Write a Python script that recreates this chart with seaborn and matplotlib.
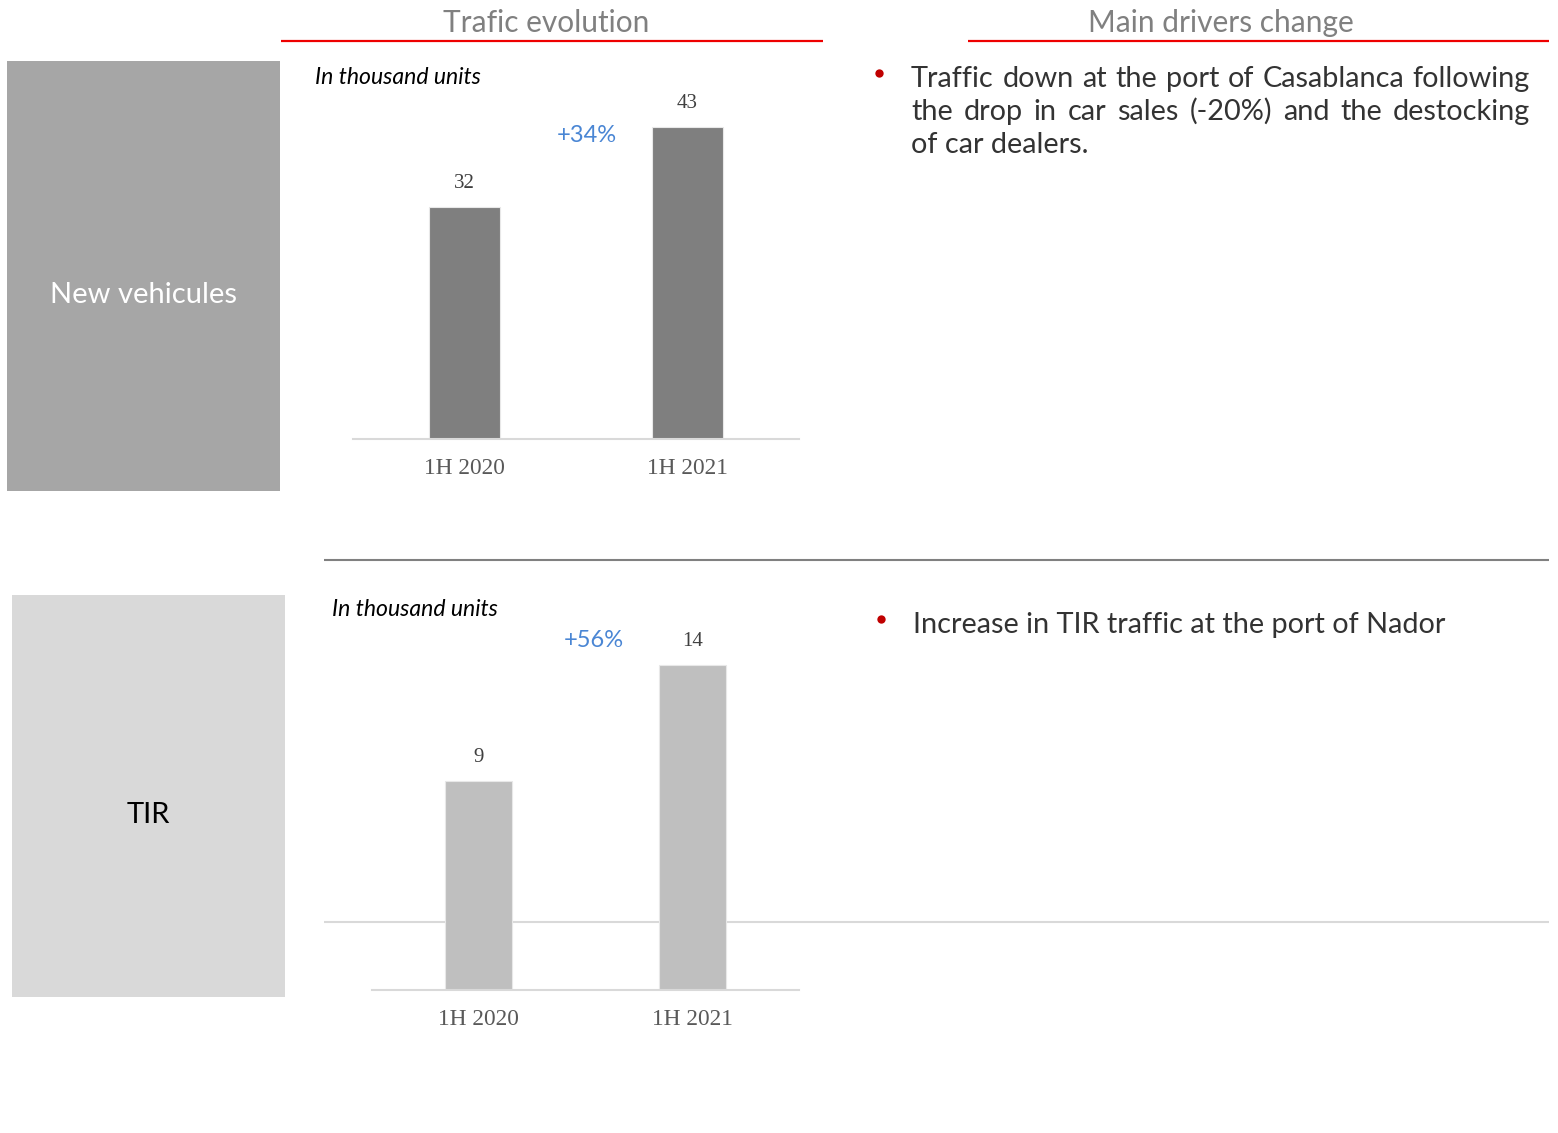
import matplotlib
matplotlib.use("Agg")
import matplotlib.pyplot as plt
import seaborn as sns
import pandas as pd
from matplotlib.patches import Rectangle
from matplotlib.lines import Line2D

# ---------------- data ----------------
periods = ["1H 2020", "1H 2021"]
new_vehicles = [32, 43]
tir = [9, 14]
growth_new = "+34%"
growth_tir = "+56%"
unit_label = "In thousand units"
section_titles = ["Trafic evolution", "Main drivers change"]
box_labels = ["New vehicules", "TIR"]
bullet1_lines = ["Traffic down at the port of Casablanca following",
                 "the drop in car sales (-20%) and the destocking",
                 "of car dealers."]
bullet2_lines = ["Increase in TIR traffic at the port of Nador"]

# ---------------- setup ----------------
sns.set_theme(style="white")
plt.rcParams['font.family'] = ['Lato', 'DejaVu Sans']

W, H = 1558, 1133
fig = plt.figure(figsize=(W / 100, H / 100), dpi=100)
fig.patch.set_facecolor("white")

def fx(x):
    return x / W

def fy(y):
    return 1 - y / H

def hline(x0, x1, y, color, lw, z=1):
    fig.add_artist(Line2D([fx(x0), fx(x1)], [fy(y), fy(y)], color=color, lw=lw,
                          transform=fig.transFigure, zorder=z, solid_capstyle="butt"))

TXT = "#333333"
GRAYT = "#808080"
BLUE = "#4a86d4"

# headers
fig.text(fx(546), fy(32), section_titles[0], ha="center", va="baseline", fontsize=21.5, color=GRAYT)
fig.text(fx(1221), fy(32), section_titles[1], ha="center", va="baseline", fontsize=21.5, color=GRAYT)
hline(281, 823, 41, "#ee0000", 1.6)
hline(968, 1549, 41, "#ee0000", 1.6)

# separators
hline(324, 1549, 560, "#808080", 1.5)
hline(324, 1549, 922, "#d9d9d9", 1.5, z=-1)

# left boxes
fig.add_artist(Rectangle((fx(7), fy(491)), fx(280) - fx(7), fy(61) - fy(491),
                         transform=fig.transFigure, facecolor="#a6a6a6", edgecolor="none", zorder=0))
fig.text(fx(143), fy(295), box_labels[0], ha="center", va="center", fontsize=21, color="white")
fig.add_artist(Rectangle((fx(12), fy(997)), fx(285) - fx(12), fy(595) - fy(997),
                         transform=fig.transFigure, facecolor="#d9d9d9", edgecolor="none", zorder=0))
fig.text(fx(148), fy(815), box_labels[1], ha="center", va="center", fontsize=21, color="black")


def bar_chart(left, right, base, top, ymax, values, color, growth, gx, gy):
    ax = fig.add_axes([fx(left), fy(base), fx(right) - fx(left), fy(top) - fy(base)])
    df = pd.DataFrame({"period": periods, "value": values})
    sns.barplot(data=df, x="period", y="value", color=color, width=0.314,
                saturation=1, ax=ax, edgecolor="#e8e8e8", linewidth=0.8)
    ax.set_xlim(-0.5, 1.5)
    ax.set_ylim(0, ymax)
    ax.patch.set_alpha(0)
    for s in ["top", "right", "left"]:
        ax.spines[s].set_visible(False)
    ax.spines["bottom"].set_color("#d9d9d9")
    ax.spines["bottom"].set_linewidth(1.5)
    ax.set_yticks([])
    ax.set_xlabel("")
    ax.set_ylabel("")
    ax.tick_params(axis="x", length=0, pad=13.5, labelsize=16.8, labelcolor="#595959")
    for lbl in ax.get_xticklabels():
        lbl.set_fontfamily("Liberation Serif")
    for i, v in enumerate(values):
        ax.annotate(str(v), (i, v), xytext=(0, 17), textcoords="offset points",
                    ha="center", va="center", fontsize=15, color="#404040",
                    fontfamily="Liberation Serif")
    ax.text(gx, gy, growth, ha="center", va="center", fontsize=17, color=BLUE, clip_on=False)
    return ax

bar_chart(353, 799, 439, 90, 349 / 7.25, new_vehicles, "#7f7f7f", growth_new, 0.547, 41.9)
bar_chart(372, 799, 990, 640, 350 / 23.22, tir, "#bfbfbf", growth_tir, 0.54, 15.05)

fig.text(fx(315), fy(77), unit_label, ha="left", va="center", fontsize=16.6, style="italic", color="black")
fig.text(fx(332), fy(610), unit_label, ha="left", va="center", fontsize=16.6, style="italic", color="black")

# bullets
renderer = fig.canvas.get_renderer()

def justified(lines, x0, x1, y0, dy, fs, justify_last=False):
    for k, line in enumerate(lines):
        y = y0 + k * dy
        words = line.split(" ")
        last = (k == len(lines) - 1)
        if last and not justify_last:
            fig.text(fx(x0), fy(y), line, ha="left", va="baseline", fontsize=fs, color=TXT)
            continue
        arts = [fig.text(0, fy(y), w, ha="left", va="baseline", fontsize=fs, color=TXT) for w in words]
        widths = [a.get_window_extent(renderer).width for a in arts]
        gap = ((x1 - x0) - sum(widths)) / max(len(words) - 1, 1)
        x = x0
        for a, w in zip(arts, widths):
            a.set_x(fx(x))
            x += w + gap

def bullet(x, y):
    fig.add_artist(Line2D([fx(x)], [fy(y)], marker="o", ms=6, color="#c00000",
                          markeredgewidth=0, transform=fig.transFigure))

bullet(879, 73)
justified(bullet1_lines, 911, 1530, 87, 33, 20.8)
bullet(881, 619)
justified(bullet2_lines, 913, 1447, 633, 33, 20.8)

fig.savefig("out.png", dpi=100, facecolor="white")
